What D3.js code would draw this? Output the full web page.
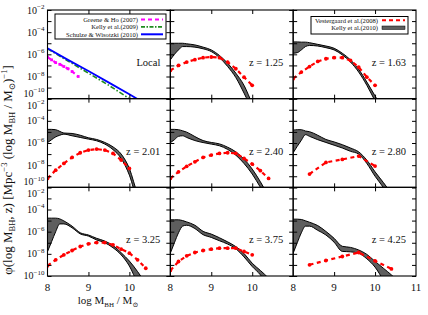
<!DOCTYPE html>
<html>
<head>
<meta charset="utf-8">
<script src="https://cdn.jsdelivr.net/npm/d3@7"></script>
<style>
body { margin: 0; background: #fff; }
text { font-family: "Liberation Serif", "Times New Roman", "DejaVu Serif", serif; fill: #111; font-weight: normal; }
</style>
</head>
<body>
<div id="chart"></div>
<script>
// DATA (log10 of phi)
var panelLabels = ["Local", "z = 1.25", "z = 1.63", "z = 2.01", "z = 2.40", "z = 2.80", "z = 3.25", "z = 3.75", "z = 4.25"];
var xTicks = [8, 9, 10];

// local panel
var localMass = [8.0, 8.5, 9.0, 9.5, 10.0, 10.5];
var schulze10 = [-5.45, -6.5, -7.5, -8.55, -9.6, -10.7];
var kelly09 = [-5.5, -6.6, -7.7, -8.8, -10.0, -11.1];
var greeneMass = [8.0, 8.1, 8.2, 8.3, 8.4, 8.5, 8.6, 8.75];
var greene07 = [-6.25, -6.5, -6.75, -6.9, -7.1, -7.3, -7.55, -8.0];

// Vestergaard et al. (2008), null = no point
var massBins = [8.0, 8.2, 8.4, 8.6, 8.8, 9.0, 9.2, 9.4, 9.6, 9.8, 10.0, 10.2, 10.4];
var vest125 = [-7.45, -7.0, -6.7, -6.48, -6.3, -6.24, -6.3, -6.7, -7.3, -8.06, -8.8, null, null];
var vest163 = [-8.2, -7.6, -7.1, -6.64, -6.4, -6.3, -6.3, -6.55, -7.15, -8.06, -8.8, null, null];
var vest201 = [-9.2, -8.45, -7.84, -7.3, -6.88, -6.64, -6.55, -6.64, -6.94, -7.54, -8.29, null, null];
var vest240 = [-9.2, -8.6, -8.1, -7.7, -7.3, -7.09, -6.94, -6.88, -6.94, -7.39, -7.9, -8.5, -9.2];
var vest280 = [null, null, -8.8, null, -7.75, null, -7.48, null, -7.18, null, -8.08, null, null];
var vest325 = [-9.08, -8.54, -8.09, -7.7, -7.34, -7.1, -6.98, -6.98, -7.19, -7.58, -7.94, -8.54, -9.3];
var vest375 = [-9.5, -8.69, -8.18, -7.88, -7.7, -7.58, -7.49, -7.49, -7.49, -7.79, -8.09, null, null];
var vest425 = [null, null, -8.99, null, -8.6, null, -8.24, null, -7.88, null, -8.63, null, -9.36];

// Kelly et al. (2010) band, upper and lower edges
var bandMass = [8.0, 8.1, 8.2, 8.3, 8.4, 8.6, 8.8, 9.0, 9.2, 9.4, 9.6, 9.8, 10.0, 10.2, 10.4, 10.6];
var kellyUp125 = [-5.0, -5.0, -5.0, -5.0, -5.05, -5.15, -5.35, -5.6, -6.1, -6.8, -7.7, -8.8, -10.4, -11.5, -12, -12];
var kellyLo125 = [-6.5, -6.0, -5.6, -5.3, -5.3, -5.35, -5.5, -5.75, -6.3, -7.1, -8.1, -9.5, -11, -12, -12, -12];
var kellyUp163 = [-4.88, -4.88, -4.9, -4.9, -4.95, -5.1, -5.25, -5.45, -5.9, -6.5, -7.35, -8.5, -9.75, -11, -12, -12];
var kellyLo163 = [-5.9, -5.85, -5.6, -5.3, -5.2, -5.25, -5.4, -5.6, -6.05, -6.7, -7.6, -8.8, -10.2, -11.5, -12, -12];
var kellyUp201 = [-4.77, -4.77, -4.8, -4.95, -5.1, -5.14, -5.3, -5.53, -5.68, -5.95, -6.35, -7.0, -8.3, -10.6, -12, -12];
var kellyLo201 = [-5.97, -5.7, -5.45, -5.3, -5.2, -5.35, -5.5, -5.65, -5.8, -6.1, -6.6, -7.4, -8.9, -11.2, -12, -12];
var kellyUp240 = [-4.77, -4.77, -4.8, -4.9, -5.02, -5.42, -5.78, -5.95, -6.08, -6.38, -6.8, -7.45, -8.35, -9.5, -10.8, -12];
var kellyLo240 = [-5.98, -5.7, -5.4, -5.35, -5.5, -5.78, -5.96, -6.1, -6.25, -6.58, -7.1, -7.85, -8.8, -10.0, -11.2, -12];
var kellyUp280 = [-4.84, -4.8, -4.8, -4.92, -4.98, -5.3, -5.68, -5.9, -6.15, -6.45, -6.8, -7.55, -8.6, -9.55, -10.6, -12];
var kellyLo280 = [-6.88, -6.3, -5.75, -5.25, -5.4, -5.7, -5.95, -6.2, -6.45, -6.75, -7.0, -7.85, -9.0, -10.0, -11.2, -12];
var kellyUp325 = [-4.78, -4.78, -4.78, -4.85, -5.03, -5.5, -6.1, -6.3, -6.6, -6.85, -7.25, -7.9, -8.65, -9.6, -10.7, -12];
var kellyLo325 = [-7.8, -6.9, -6.0, -5.3, -5.3, -5.65, -6.2, -6.4, -6.75, -7.0, -7.45, -8.1, -9.1, -10.6, -11.5, -12];
var kellyUp375 = [-4.93, -4.93, -4.93, -5.0, -5.12, -5.42, -5.97, -6.22, -6.55, -6.92, -7.35, -7.97, -8.85, -9.5, -10.2, -11];
var kellyLo375 = [-7.94, -7.0, -6.1, -5.5, -5.42, -5.72, -6.27, -6.52, -6.82, -7.12, -7.55, -8.28, -9.15, -9.9, -11, -12];
var kellyUp425 = [-4.87, -4.87, -4.9, -5.02, -5.15, -5.45, -5.98, -6.6, -7.32, -7.42, -7.65, -8.05, -8.68, -9.29, -9.9, -10.6];
var kellyLo425 = [-7.94, -7.0, -6.1, -5.5, -5.5, -5.88, -6.3, -6.95, -7.78, -7.82, -7.95, -8.45, -9.2, -10.3, -11, -12];

var vestSeries = [null, vest125, vest163, vest201, vest240, vest280, vest325, vest375, vest425];
var bandUp = [null, kellyUp125, kellyUp163, kellyUp201, kellyUp240, kellyUp280, kellyUp325, kellyUp375, kellyUp425];
var bandLo = [null, kellyLo125, kellyLo163, kellyLo201, kellyLo240, kellyLo280, kellyLo325, kellyLo375, kellyLo425];

// SET UP DIMENSIONS
var W = 428, H = 315;
var margin = {top: 10, right: 12, bottom: 39, left: 47.5};
var pw = (W - margin.left - margin.right) / 3,
    ph = (H - margin.top - margin.bottom) / 3;

var x = d3.scaleLinear().domain([8, 11]).range([0, pw]);
var y = d3.scaleLog().domain([1e-10, 1e-2]).range([ph, 0]);
var decades = d3.range(-10, -1).map(function(e) { return Math.pow(10, e); });

var svg = d3.select('#chart').append('svg')
  .attr('width', W)
  .attr('height', H);

var defs = svg.append('defs');
defs.append('clipPath').attr('id', 'clip')
  .append('rect').attr('width', pw).attr('height', ph);

function pts(xs, ys) {
  var out = [];
  xs.forEach(function(m, i) { if (ys[i] !== null) out.push([m, Math.pow(10, ys[i])]); });
  return out;
}

var line = d3.line()
  .x(function(d) { return x(d[0]); })
  .y(function(d) { return y(d[1]); });

var area = d3.area()
  .curve(d3.curveMonotoneX)
  .x(function(d) { return x(d[0]); })
  .y0(function(d) { return y(d[1]); })
  .y1(function(d) { return y(d[2]); });

function translation(a, b) { return 'translate(' + a + ',' + b + ')'; }

// PANELS
panelLabels.forEach(function(lab, k) {
  var col = k % 3, row = Math.floor(k / 3);
  var g = svg.append('g').attr('transform', translation(margin.left + col * pw, margin.top + row * ph));
  var plot = g.append('g').attr('clip-path', 'url(#clip)');

  if (k === 0) {
    plot.append('path').datum(pts(localMass, kelly09)).attr('d', line)
      .attr('fill', 'none').attr('stroke', '#1e8c1e').attr('stroke-width', 1.6)
      .attr('stroke-dasharray', '5,2,1.5,2');
    plot.append('path').datum(pts(localMass, schulze10)).attr('d', line)
      .attr('fill', 'none').attr('stroke', '#0000ff').attr('stroke-width', 1.8);
    plot.append('path').datum(pts(greeneMass, greene07)).attr('d', line)
      .attr('fill', 'none').attr('stroke', '#ff00ff').attr('stroke-width', 2.2)
      .attr('stroke-dasharray', '4,3');
    plot.selectAll('.gh').data(pts(greeneMass, greene07)).enter().append('rect')
      .attr('x', function(d) { return x(d[0]) - 1.4; })
      .attr('y', function(d) { return y(d[1]) - 1.4; })
      .attr('width', 2.8).attr('height', 2.8).attr('fill', '#ff00ff');
  } else {
    var band = bandMass.map(function(m, i) { return [m, Math.pow(10, bandLo[k][i]), Math.pow(10, bandUp[k][i])]; });
    plot.append('path').datum(band).attr('d', area)
      .attr('fill', '#5e5e5e').attr('stroke', '#000').attr('stroke-width', 1);
    var v = pts(massBins, vestSeries[k]);
    plot.append('path').datum(v).attr('d', line)
      .attr('fill', 'none').attr('stroke', '#ff0000').attr('stroke-width', 2.2)
      .attr('stroke-dasharray', '4,3.5');
    plot.selectAll('.vp').data(v).enter().append('circle')
      .attr('cx', function(d) { return x(d[0]); })
      .attr('cy', function(d) { return y(d[1]); })
      .attr('r', 1.9).attr('fill', '#ff0000');
  }

  // FRAME AND INWARD TICKS
  g.append('rect').attr('width', pw).attr('height', ph)
    .attr('fill', 'none').attr('stroke', '#000').attr('stroke-width', 1.1);
  [d3.axisRight(y), d3.axisLeft(y)].forEach(function(ax, i) {
    g.append('g').attr('transform', translation(i ? pw : 0, 0))
      .call(ax.tickValues(decades).tickSize(4).tickFormat(''))
      .call(function(s) { s.select('.domain').remove(); });
  });
  [d3.axisBottom(x), d3.axisTop(x)].forEach(function(ax, i) {
    g.append('g').attr('transform', translation(0, i ? ph : 0))
      .call(ax.tickValues([9, 10]).tickSize(4).tickFormat(''))
      .call(function(s) { s.select('.domain').remove(); });
  });
  g.selectAll('.tick line').attr('stroke', '#000').attr('stroke-width', 1);

  g.append('text').attr('x', pw - 10).attr('y', 56)
    .attr('text-anchor', 'end').style('font-size', '10.5px').text(lab);

  // Y TICK LABELS (first column); the ones on shared edges are nudged apart
  if (col === 0) {
    d3.range(-10, -1, 2).forEach(function(e) {
      var nudge = 0;
      if (e === -10 && row < 2) nudge = -5.5;
      if (e === -2 && row > 0) nudge = 6.5;
      var t = g.append('text').attr('x', -3).attr('y', y(Math.pow(10, e)) + 3.5 + nudge)
        .attr('text-anchor', 'end').style('font-size', '10px');
      t.append('tspan').text('10');
      t.append('tspan').attr('dy', -4.5).style('font-size', '7px').text('\u2212' + (-e));
    });
  }
  // X TICK LABELS (bottom row)
  if (row === 2) {
    var lx = col === 2 ? xTicks.concat([11]) : xTicks;
    lx.forEach(function(m) {
      g.append('text').attr('x', x(m)).attr('y', ph + 15)
        .attr('text-anchor', 'middle').style('font-size', '11px').text(m);
    });
  }
});

// AXIS TITLES
var xl = svg.append('text').attr('x', 108).attr('y', 304)
  .attr('text-anchor', 'middle').style('font-size', '11px');
xl.append('tspan').text('log M');
xl.append('tspan').attr('dy', 2.5).style('font-size', '7px').text('BH');
xl.append('tspan').attr('dy', -2.5).text(' / M');
xl.append('tspan').attr('dy', 2.5).style('font-size', '7px').text('\u2299');

var yl = svg.append('text').attr('transform', 'translate(12,170) rotate(-90)')
  .attr('text-anchor', 'middle').style('font-size', '13px');
yl.append('tspan').text('\u03c6(log M');
yl.append('tspan').attr('dy', 3).style('font-size', '8.5px').text('BH');
yl.append('tspan').attr('dy', -3).text(', z) [Mpc');
yl.append('tspan').attr('dy', -5).style('font-size', '8.5px').text('\u22123');
yl.append('tspan').attr('dy', 5).text(' (log M');
yl.append('tspan').attr('dy', 3).style('font-size', '8.5px').text('BH');
yl.append('tspan').attr('dy', -3).text(' / M');
yl.append('tspan').attr('dy', 3).style('font-size', '8.5px').text('\u2299');
yl.append('tspan').attr('dy', -3).text(')');
yl.append('tspan').attr('dy', -5).style('font-size', '8.5px').text('\u22121');
yl.append('tspan').attr('dy', 5).text(']');

// LEGENDS
var legFont = '6.6px';
var leg1 = svg.append('g');
leg1.append('rect').attr('x', 55).attr('y', 14).attr('width', 111).attr('height', 25)
  .attr('fill', '#fff').attr('stroke', '#000').attr('stroke-width', 1);
var leg1Items = [
  {t: 'Greene & Ho (2007)', c: '#ff00ff', d: '4,3', w: 2},
  {t: 'Kelly et al.(2009)', c: '#1e8c1e', d: '4,1.5,1.5,1.5', w: 1.6},
  {t: 'Schulze & Wisotzki (2010)', c: '#0000ff', d: null, w: 2}
];
leg1Items.forEach(function(it, i) {
  var yy = 19.5 + i * 7.4;
  leg1.append('text').attr('x', 138).attr('y', yy + 2.3).attr('text-anchor', 'end')
    .style('font-size', legFont).text(it.t);
  leg1.append('line').attr('x1', 141).attr('x2', 163).attr('y1', yy).attr('y2', yy)
    .attr('stroke', it.c).attr('stroke-width', it.w).attr('stroke-dasharray', it.d);
});

var leg2 = svg.append('g');
leg2.append('rect').attr('x', 311).attr('y', 16.5).attr('width', 97).attr('height', 17.5)
  .attr('fill', '#fff').attr('stroke', '#000').attr('stroke-width', 1);
leg2.append('text').attr('x', 378).attr('y', 22.6).attr('text-anchor', 'end')
  .style('font-size', legFont).text('Vestergaard et al.(2008)');
leg2.append('line').attr('x1', 382).attr('x2', 405).attr('y1', 20.3).attr('y2', 20.3)
  .attr('stroke', '#ff0000').attr('stroke-width', 2).attr('stroke-dasharray', '4,3');
leg2.append('text').attr('x', 378).attr('y', 30.2).attr('text-anchor', 'end')
  .style('font-size', legFont).text('Kelly et al.(2010)');
leg2.append('rect').attr('x', 382).attr('y', 26).attr('width', 23).attr('height', 3.5)
  .attr('fill', '#5e5e5e').attr('stroke', '#000').attr('stroke-width', 0.5);
</script>
</body>
</html>
